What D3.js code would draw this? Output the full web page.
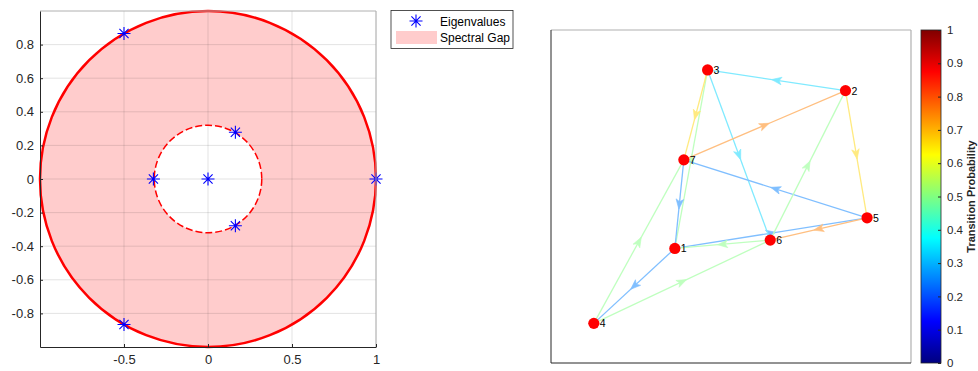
<!DOCTYPE html>
<html>
<head>
<meta charset="utf-8">
<script src="https://cdn.jsdelivr.net/npm/d3@7"></script>
<style>
  html, body { margin: 0; padding: 0; background: #fff; }
  svg { display: block; font-family: "Liberation Sans", Arial, sans-serif; }
</style>
</head>
<body>
<svg id="chart" width="978" height="371"></svg>
<script>
// ---- Eigenvalue spectrum (complex plane) ----
const eigRe = [1, -0.5, -0.5, -0.325, 0, 0.163, 0.163];
const eigIm = [0, 0.866, -0.866, 0, 0, 0.278, -0.278];
const outerRadius = 1;
const innerRadius = 0.32;
const xTicks = [-0.5, 0, 0.5, 1];
const yTicks = [-0.8, -0.6, -0.4, -0.2, 0, 0.2, 0.4, 0.6, 0.8];

// ---- Markov chain graph ----
const nodeIds = [1, 2, 3, 4, 5, 6, 7];
const nodeX = [0.344, 0.818, 0.435, 0.119, 0.878, 0.609, 0.369];
const nodeY = [0.344, 0.818, 0.880, 0.119, 0.436, 0.369, 0.610];
const edgeFrom = [1, 1, 1, 2, 2, 3, 3, 4, 4, 5, 5, 6, 6, 7, 7];
const edgeTo   = [3, 4, 5, 3, 5, 6, 7, 6, 7, 6, 7, 1, 2, 1, 2];
const edgeProb = [0.5, 0.25, 0.25, 0.333, 0.667, 0.333, 0.667, 0.5, 0.5, 0.75, 0.25, 0.5, 0.5, 0.25, 0.75];
const cbTicks = [0, 0.1, 0.2, 0.3, 0.4, 0.5, 0.6, 0.7, 0.8, 0.9, 1];

const svg = d3.select("#chart");
const axisColor = "#262626";
const fontFamily = "Liberation Sans, Arial, sans-serif";
// plain hyphen-minus tick labels
const fmt = d => String(+d.toFixed(1));

// MATLAB-style jet colormap
function jet(t) {
  const c = v => Math.max(0, Math.min(1, v));
  const r = c(1.5 - Math.abs(4 * t - 3));
  const g = c(1.5 - Math.abs(4 * t - 2));
  const b = c(1.5 - Math.abs(4 * t - 1));
  return d3.rgb(r * 255, g * 255, b * 255);
}
// edge colour at half transparency over white
function edgeColor(t) {
  return d3.interpolateRgb(jet(t), "#ffffff")(0.5);
}

// ================= Left panel =================
const L = { x0: 40, x1: 376, y0: 11, y1: 347 };
const xs = d3.scaleLinear().domain([-1, 1]).range([L.x0, L.x1]);
const ys = d3.scaleLinear().domain([-1, 1]).range([L.y1, L.y0]);
const left = svg.append("g");

// spectral gap annulus
const ring = d3.arc()
  .innerRadius(xs(innerRadius) - xs(0))
  .outerRadius(xs(outerRadius) - xs(0))
  .startAngle(0).endAngle(2 * Math.PI);
left.append("path")
  .attr("d", ring())
  .attr("transform", `translate(${xs(0)},${ys(0)})`)
  .attr("fill", "#ffcccc");

// grid
const grid = left.append("g").attr("stroke", axisColor).attr("stroke-opacity", 0.13).attr("stroke-width", 1);
xTicks.forEach(t => grid.append("line").attr("x1", xs(t)).attr("x2", xs(t)).attr("y1", L.y0).attr("y2", L.y1));
yTicks.forEach(t => grid.append("line").attr("y1", ys(t)).attr("y2", ys(t)).attr("x1", L.x0).attr("x2", L.x1));

// unit circle and spectral radius circle
left.append("circle")
  .attr("cx", xs(0)).attr("cy", ys(0)).attr("r", xs(outerRadius) - xs(0))
  .attr("fill", "none").attr("stroke", "#ff0000").attr("stroke-width", 2.5);
left.append("circle")
  .attr("cx", xs(0)).attr("cy", ys(0)).attr("r", xs(innerRadius) - xs(0))
  .attr("fill", "none").attr("stroke", "#ff0000").attr("stroke-width", 1.5)
  .attr("stroke-dasharray", "7,3");

// asterisk marker
function star(g, cx, cy, s) {
  const d = s * 0.7071;
  const p = `M${cx - s},${cy}H${cx + s}M${cx},${cy - s}V${cy + s}` +
            `M${cx - d},${cy - d}L${cx + d},${cy + d}M${cx - d},${cy + d}L${cx + d},${cy - d}`;
  g.append("path").attr("d", p).attr("stroke", "#0000ff").attr("stroke-width", 1.1).attr("fill", "none");
}
const marks = left.append("g");
eigRe.forEach((re, i) => star(marks, xs(re), ys(eigIm[i]), 6.5));

// axes box
left.append("line").attr("x1", L.x0).attr("x2", L.x1).attr("y1", L.y0).attr("y2", L.y0).attr("stroke", "#b0b0b0");
left.append("line").attr("x1", L.x1).attr("x2", L.x1).attr("y1", L.y0).attr("y2", L.y1).attr("stroke", "#b0b0b0");
const xAxis = d3.axisBottom(xs).tickValues(xTicks).tickSizeInner(-3).tickSizeOuter(0).tickPadding(8).tickFormat(fmt);
const yAxis = d3.axisLeft(ys).tickValues(yTicks).tickSizeInner(-3).tickSizeOuter(0).tickPadding(6).tickFormat(fmt);
const gx = left.append("g").attr("transform", `translate(0,${L.y1})`).call(xAxis);
const gy = left.append("g").attr("transform", `translate(${L.x0},0)`).call(yAxis);
[gx, gy].forEach(g => {
  g.select(".domain").attr("stroke", axisColor);
  g.selectAll(".tick line").attr("stroke", axisColor);
  g.selectAll("text").attr("fill", axisColor).attr("font-size", 13).attr("font-family", fontFamily);
});

// legend
const lg = svg.append("g");
lg.append("rect").attr("x", 391).attr("y", 10.5).attr("width", 122).attr("height", 38)
  .attr("fill", "#fff").attr("stroke", axisColor).attr("stroke-width", 0.8);
star(lg, 416, 21, 6.5);
lg.append("rect").attr("x", 396).attr("y", 31).attr("width", 41).attr("height", 13).attr("fill", "#ffcccc");
lg.append("text").attr("x", 440).attr("y", 25.5).attr("font-size", 12).attr("fill", "#000").text("Eigenvalues");
lg.append("text").attr("x", 440).attr("y", 42).attr("font-size", 12).attr("fill", "#000").text("Spectral Gap");

// ================= Right panel =================
const R = { x0: 551, x1: 911, y0: 30, y1: 363 };
const gxS = d3.scaleLinear().domain([0, 1]).range([R.x0, R.x1]);
const gyS = d3.scaleLinear().domain([0, 1]).range([R.y1, R.y0]);
const right = svg.append("g");
right.append("line").attr("x1", R.x0).attr("x2", R.x1).attr("y1", R.y0).attr("y2", R.y0).attr("stroke", "#b0b0b0").attr("stroke-width", 1.2);
right.append("line").attr("x1", R.x1).attr("x2", R.x1).attr("y1", R.y0).attr("y2", R.y1).attr("stroke", "#b0b0b0").attr("stroke-width", 1.2);
right.append("line").attr("x1", R.x0).attr("x2", R.x1).attr("y1", R.y1).attr("y2", R.y1).attr("stroke", axisColor);
right.append("line").attr("x1", R.x0).attr("x2", R.x0).attr("y1", R.y0).attr("y2", R.y1).attr("stroke", axisColor);

const pos = id => {
  const i = nodeIds.indexOf(id);
  return [gxS(nodeX[i]), gyS(nodeY[i])];
};
const edges = edgeFrom.map((f, i) => ({ f, t: edgeTo[i], p: edgeProb[i] }));
const eg = right.append("g");
edges.forEach(e => {
  const [x1, y1] = pos(e.f), [x2, y2] = pos(e.t);
  const col = edgeColor(e.p);
  eg.append("line").attr("x1", x1).attr("y1", y1).attr("x2", x2).attr("y2", y2)
    .attr("stroke", col).attr("stroke-width", 1.3);
  const mx = (x1 + x2) / 2, my = (y1 + y2) / 2;
  const ang = Math.atan2(y2 - y1, x2 - x1) * 180 / Math.PI;
  eg.append("path").attr("d", "M5,0L-5,-3.8L-2.5,0L-5,3.8Z")
    .attr("transform", `translate(${mx},${my}) rotate(${ang})`)
    .attr("fill", col).attr("stroke", col).attr("stroke-width", 0.6);
});
const ng = right.append("g");
nodeIds.forEach(id => {
  const [x, y] = pos(id);
  ng.append("circle").attr("cx", x).attr("cy", y).attr("r", 5.6).attr("fill", "#ff0000");
  ng.append("text").attr("x", x + 6).attr("y", y + 4).attr("font-size", 10.5).attr("fill", "#000").text(id);
});

// colorbar
const C = { x0: 921, x1: 941, y0: 30, y1: 363 };
const cs = d3.scaleLinear().domain([0, 1]).range([C.y1, C.y0]);
const defs = svg.append("defs");
const grad = defs.append("linearGradient").attr("id", "jetGrad")
  .attr("x1", 0).attr("y1", 1).attr("x2", 0).attr("y2", 0);
d3.range(0, 1.0001, 1 / 32).forEach(t => {
  grad.append("stop").attr("offset", t).attr("stop-color", jet(t).formatHex());
});
svg.append("rect").attr("x", C.x0).attr("y", C.y0).attr("width", C.x1 - C.x0).attr("height", C.y1 - C.y0)
  .attr("fill", "url(#jetGrad)").attr("stroke", axisColor).attr("stroke-width", 0.8);
const cAxis = d3.axisRight(cs).tickValues(cbTicks).tickSizeInner(-3).tickSizeOuter(0).tickPadding(6).tickFormat(fmt);
const gc = svg.append("g").attr("transform", `translate(${C.x1},0)`).call(cAxis);
gc.select(".domain").remove();
gc.selectAll(".tick line").attr("stroke", axisColor);
gc.selectAll("text").attr("fill", axisColor).attr("font-size", 11.5).attr("font-family", fontFamily);
svg.append("text")
  .attr("transform", `translate(975,${(C.y0 + C.y1) / 2}) rotate(-90)`)
  .attr("text-anchor", "middle").attr("font-size", 11).attr("font-weight", "bold").attr("fill", axisColor)
  .text("Transition Probability");
</script>
</body>
</html>
